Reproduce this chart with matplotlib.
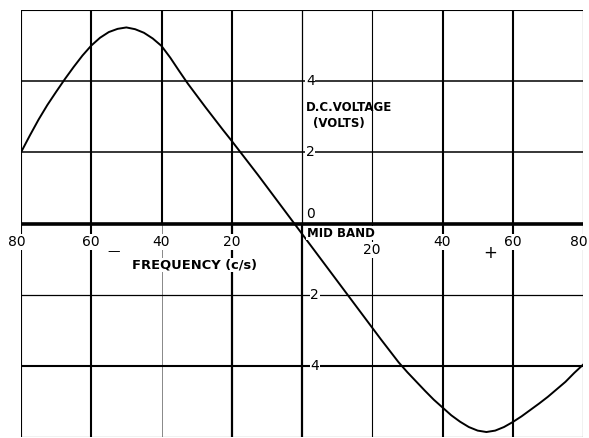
import matplotlib.pyplot as plt
import numpy as np

# frequency offset from mid band (c/s) and d.c. voltage
freq = [-80, -77.5, -75, -72.5, -70, -67.5, -65, -62.5, -60, -57.5, -55, -52.5,
        -50, -47.5, -45, -42.5, -40, -37.5, -35, -32.5, -30, -27.5, -25, -22.5,
        -20, -17.5, -15, -12.5, -10, -7.5, -5, -2.5, 0, 2.5, 5, 7.5, 10, 12.5,
        15, 17.5, 20, 22.5, 25, 27.5, 30, 32.5, 35, 37.5, 40, 42.5, 45, 47.5,
        50, 52.5, 55, 57.5, 60, 62.5, 65, 67.5, 70, 72.5, 75, 77.5, 80]
volts = [2.0, 2.47, 2.92, 3.33, 3.7, 4.06, 4.4, 4.72, 5.0, 5.22, 5.38, 5.47,
         5.51, 5.46, 5.36, 5.2, 4.99, 4.66, 4.29, 3.93, 3.6, 3.27, 2.95, 2.63,
         2.32, 2.0, 1.68, 1.36, 1.03, 0.7, 0.37, 0.04, -0.29, -0.62, -0.95,
         -1.28, -1.61, -1.94, -2.27, -2.6, -2.93, -3.26, -3.58, -3.9, -4.18,
         -4.44, -4.7, -4.95, -5.17, -5.39, -5.57, -5.72, -5.82, -5.86, -5.82,
         -5.72, -5.58, -5.42, -5.24, -5.06, -4.87, -4.66, -4.45, -4.2, -3.97]

x_ticks = [-80, -60, -40, -20, 20, 40, 60, 80]
x_tick_labels = ['80', '60', '40', '20', '20', '40', '60', '80']
y_ticks = [4, 2, 0, -2, -4]
y_tick_labels = ['4', '2', '0', '2', '4']

plt.rcParams['font.family'] = ['DejaVu Sans']

fig = plt.figure(figsize=(5.89, 4.38), dpi=100)
ax = fig.add_axes([21/589, 1/438, 562/589, 427/438])
ax.set_xlim(-80, 80)
ax.set_ylim(-6, 6)
ax.axis('off')

# grid: (x, lw upper half, lw lower half)
vert = {-80: (0.8, 0.8), -60: (1.5, 1.5), -40: (1.5, 0.7), -20: (1.5, 1.6),
        0: (0.9, 1.6), 20: (0.8, 0.8), 40: (1.5, 1.5), 60: (1.5, 1.5), 80: (0.8, 0.8)}
for xv, (lw_up, lw_dn) in vert.items():
    c_dn = '#888888' if xv == -40 else 'black'
    ax.plot([xv, xv], [0, 6], color='black', lw=lw_up, zorder=1)
    ax.plot([xv, xv], [-6, 0], color=c_dn, lw=lw_dn, zorder=1)
horiz = {6: 0.8, 4: 1.1, 2: 1.1, -2: 0.9, -4: 1.5, -6: 0.8}
for yv, lw in horiz.items():
    ax.plot([-80, 80], [yv, yv], color='black', lw=lw, zorder=1)
ax.plot([-80, 80], [0, 0], color='black', lw=2.6, zorder=2)

ax.plot(freq, volts, color='black', lw=1.4, zorder=3)

box = dict(facecolor='white', edgecolor='none', pad=0.6)
for xv, lab in zip(x_ticks, x_tick_labels):
    xx = xv
    yy = -0.52
    if xv == -80:
        xx = -81.2
    if xv == 80:
        xx = 78.9
    if xv == 20:
        yy = -0.75
    ax.text(xx, yy, lab, ha='center', va='center', fontsize=10, bbox=box, zorder=4)

for yv, lab in zip(y_ticks, y_tick_labels):
    xx = 1.1 if yv >= 0 else 2.4
    yy = yv + 0.28 if yv == 0 else yv
    ax.text(xx, yy, lab, ha='left', va='center', fontsize=10, bbox=box, zorder=4)

ax.text(1.0, 3.25, 'D.C.VOLTAGE', ha='left', va='center', fontsize=8.5,
        fontweight='bold', zorder=4)
ax.text(3.2, 2.8, '(VOLTS)', ha='left', va='center', fontsize=8.5,
        fontweight='bold', zorder=4)
ax.text(1.4, -0.27, 'MID BAND', ha='left', va='center', fontsize=8.5,
        fontweight='bold', bbox=box, zorder=4)
ax.text(-48.5, -1.17, 'FREQUENCY (c/s)', ha='left', va='center', fontsize=9.4,
        fontweight='bold', bbox=box, zorder=4)
ax.text(-53.5, -0.8, '\u2014', ha='center', va='center', fontsize=9, zorder=4)
ax.text(53.5, -0.82, '+', ha='center', va='center', fontsize=12, zorder=4)

fig.savefig('out.png', dpi=100)
